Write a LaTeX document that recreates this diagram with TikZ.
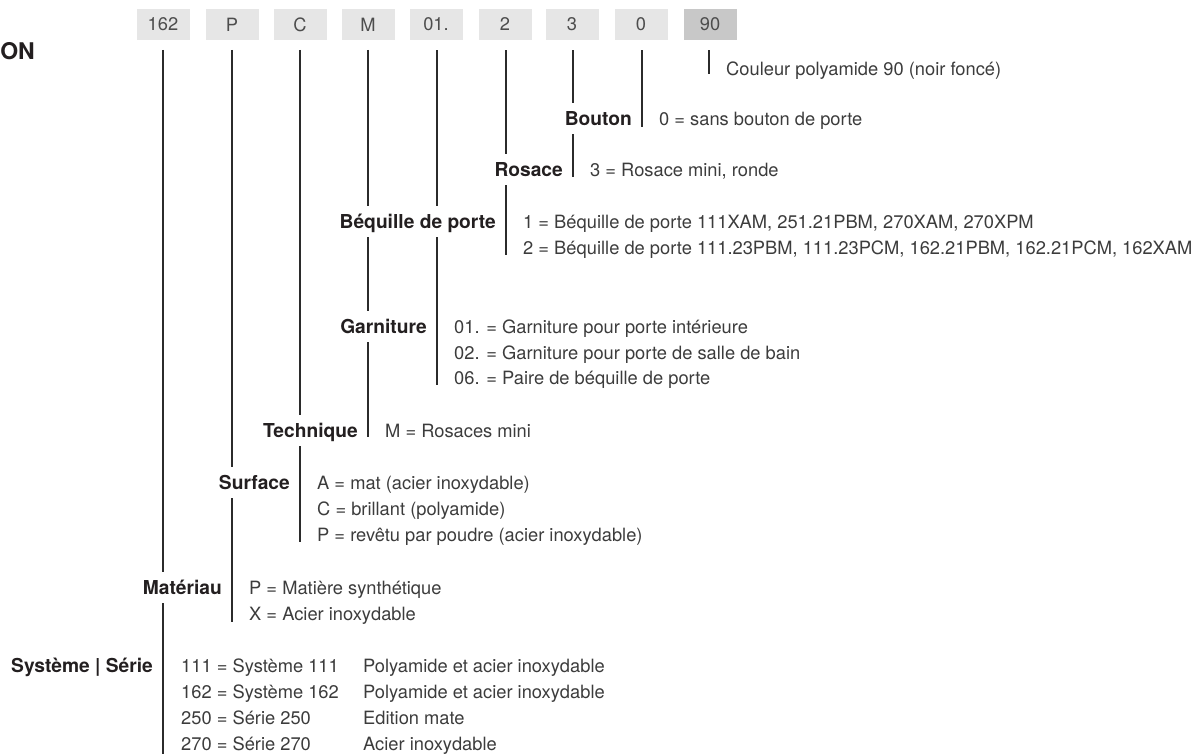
\documentclass[tikz,border=0pt]{standalone}
\usepackage{fontspec}
\setmainfont{TeX Gyre Heros}
\definecolor{boxgray}{HTML}{E6E6E6}
\definecolor{boxdark}{HTML}{C8C8C8}
\definecolor{boxtext}{HTML}{4D4D4D}
\definecolor{labtext}{HTML}{231F20}
\definecolor{opttext}{HTML}{3C3C3C}
\definecolor{rulecol}{HTML}{2B2B2B}
\newcommand{\regfont}{\fontsize{18.3}{22}\selectfont}
\newcommand{\bldfont}{\bfseries\fontsize{19.2}{22}\selectfont}
\begin{document}
\begin{tikzpicture}[x=1pt,y=-1pt,
  rule/.style={draw=rulecol, line width=1.2pt},
  codebox/.style={fill=boxgray, minimum width=53pt, minimum height=31pt, inner sep=0pt, text=boxtext, font=\regfont},
  lab/.style={fill=white, font=\bldfont, text=labtext, anchor=base east, inner xsep=3pt, inner ysep=0pt, text height=18pt, text depth=4pt, minimum height=31pt},
  opt/.style={font=\regfont, text=opttext, anchor=base west, inner sep=0pt},
]
\useasboundingbox (0,0) rectangle (1202,754);

% header boxes
\node[codebox] (b1) at (163,24.5) {162};
\node[codebox] (b2) at (232,24.5) {P};
\node[codebox] (b3) at (300,24.5) {C};
\node[codebox] (b4) at (368,24.5) {M};
\node[codebox] (b5) at (436,24.5) {01.};
\node[codebox] (b6) at (505,24.5) {2};
\node[codebox] (b7) at (572,24.5) {3};
\node[codebox] (b8) at (641,24.5) {0};
\node[codebox, fill=boxdark] (b9) at (710,24.5) {90};

\node[font=\bfseries\fontsize{23}{26}\selectfont, text=labtext, anchor=base east, inner sep=0pt] (on) at (35,60) {ON};

% end points of the column rules
\coordinate (e1) at (163,754);
\coordinate (e2) at (232,622);
\coordinate (e3) at (300,542);
\coordinate (e4) at (368,437);
\coordinate (e5) at (437,385);
\coordinate (e6) at (506,255);
\coordinate (e7) at (573,177);
\coordinate (e8) at (642,127);
\coordinate (e9) at (709,74);

\draw[rule] (b1.south |- 0,50) -- (e1);
\draw[rule] (b2.south |- 0,50) -- (e2);
\draw[rule] (b3.south |- 0,50) -- (e3);
\draw[rule] (b4.south |- 0,50) -- (e4);
\draw[rule] (e5 |- b5.south) ++(0,10) -- (e5);
\draw[rule] (e6 |- b6.south) ++(0,10) -- (e6);
\draw[rule] (e7 |- b7.south) ++(0,10) -- (e7);
\draw[rule] (e8 |- b8.south) ++(0,10) -- (e8);
\draw[rule] (e9 |- b9.south) ++(0,10) -- (e9);

% labels (white background interrupts the rules they cross)
\node[lab] (lBou) at (635,125.7) {Bouton};
\node[lab] (lRos) at (566,176.7) {Rosace};
\node[lab] (lBeq) at (499,228.7) {Béquille de porte};
\node[lab] (lGar) at (430,333.7) {Garniture};
\node[lab] (lTec) at (361,437.7) {Technique};
\node[lab] (lSur) at (293,489.7) {Surface};
\node[lab] (lMat) at (225,594.7) {Matériau};
\node[lab] (lSys) at (156,672.7) {Système | Série};

% option texts
\node[opt] (oCou) at (726,75.7) {Couleur polyamide 90 (noir foncé)};
\node[opt] (oBou) at (659,125.7) {0 = sans bouton de porte};
\node[opt] (oRos) at (590,176.7) {3 = Rosace mini, ronde};
\node[opt] (oBeq1) at (523,228.7) {1 = Béquille de porte 111XAM, 251.21PBM, 270XAM, 270XPM};
\node[opt] (oBeq2) at (523,254.7) {2 = Béquille de porte 111.23PBM, 111.23PCM, 162.21PBM, 162.21PCM, 162XAM};
\node[opt] (oGar1) at (454,333.7) {01. = Garniture pour porte intérieure};
\node[opt] (oGar2) at (454,359.7) {02. = Garniture pour porte de salle de bain};
\node[opt] (oGar3) at (454,384.7) {06. = Paire de béquille de porte};
\node[opt] (oTec) at (385,437.7) {M = Rosaces mini};
\node[opt] (oSur1) at (317,489.7) {A = mat (acier inoxydable)};
\node[opt] (oSur2) at (317,515.7) {C = brillant (polyamide)};
\node[opt] (oSur3) at (317,541.7) {P = revêtu par poudre (acier inoxydable)};
\node[opt] (oMat1) at (249,594.7) {P = Matière synthétique};
\node[opt] (oMat2) at (249,620.7) {X = Acier inoxydable};
\node[opt] (oSys1) at (181,672.7) {111 = Système 111};
\node[opt] (oSys2) at (181,698.7) {162 = Système 162};
\node[opt] (oSys3) at (181,724.7) {250 = Série 250};
\node[opt] (oSys4) at (181,750.7) {270 = Série 270};
\node[opt] (pSys1) at (363,672.7) {Polyamide et acier inoxydable};
\node[opt] (pSys2) at (363,698.7) {Polyamide et acier inoxydable};
\node[opt] (pSys3) at (363,724.7) {Edition mate};
\node[opt] (pSys4) at (363,750.7) {Acier inoxydable};
\end{tikzpicture}
\end{document}
